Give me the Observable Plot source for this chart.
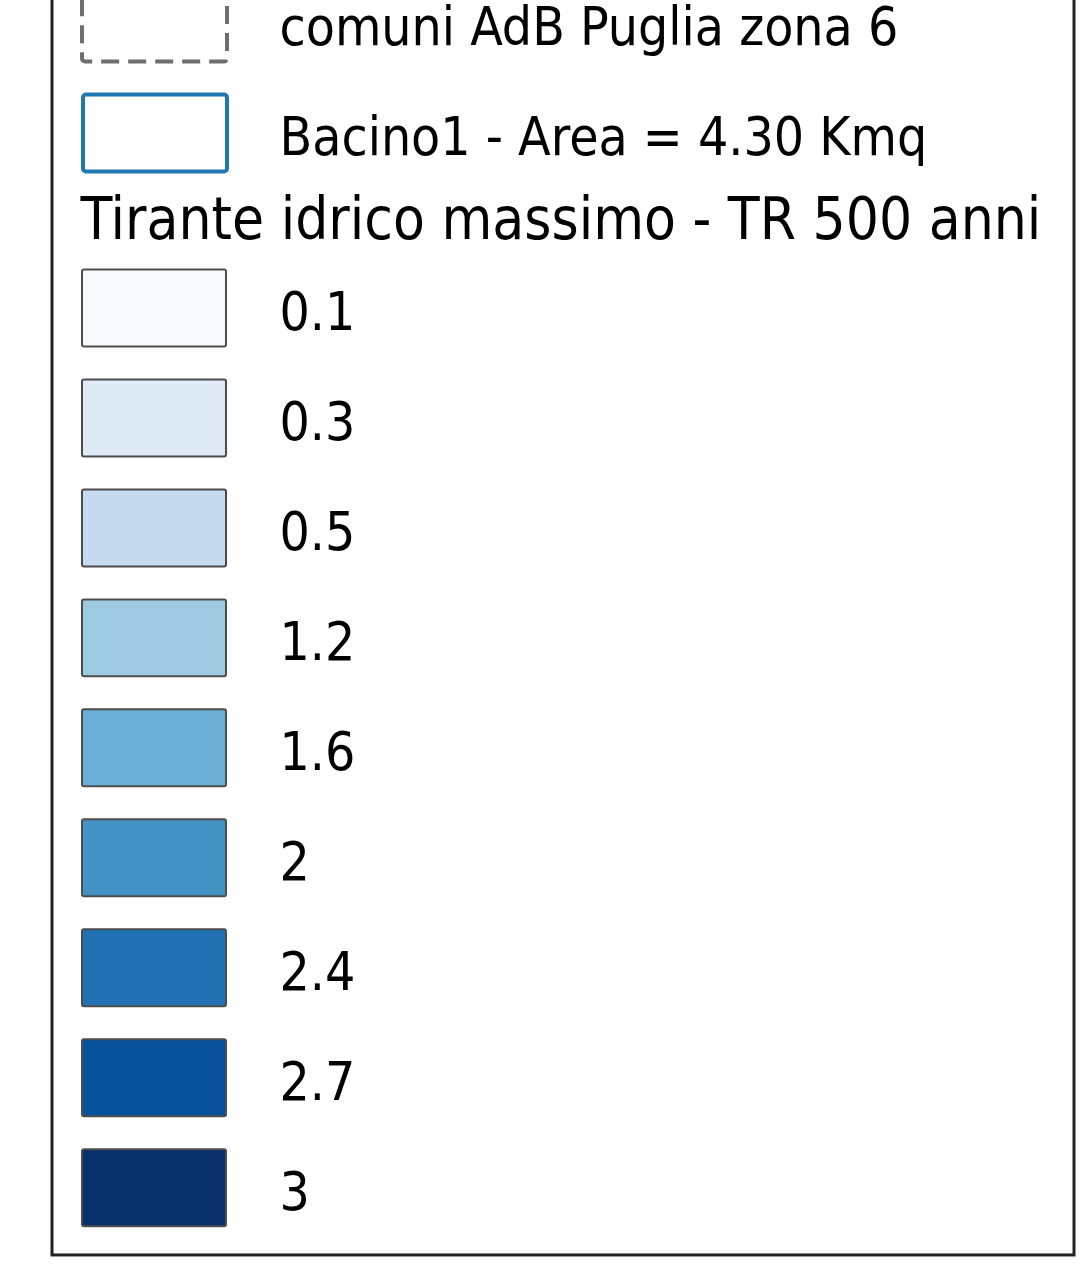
<!DOCTYPE html>
<html>
<head>
<meta charset="utf-8">
<script src="https://cdn.jsdelivr.net/npm/d3@7"></script>
<script src="https://cdn.jsdelivr.net/npm/@observablehq/plot@0.6"></script>
<style>
  html, body { margin: 0; padding: 0; background: #ffffff; }
</style>
</head>
<body>
<div id="chart"></div>
<script>
// ---- data ----
const layerLabels = ["comuni AdB Puglia zona 6", "Bacino1 - Area = 4.30 Kmq"];
const legendTitle = "Tirante idrico massimo - TR 500 anni";
const classLabels = ["0.1", "0.3", "0.5", "1.2", "1.6", "2", "2.4", "2.7", "3"];

// ---- layout (legend row units) ----
const W = 1079, H = 1273;
const titleSlot = 1.75;
const firstClassSlot = 2.59;
const half = 0.35;
const swX1 = 82, swX2 = 226, labelX = 279;
const font = "'DejaVu Sans Condensed', 'DejaVu Sans', sans-serif";

const layers = layerLabels.map((label, i) => ({label, slot: i}));
const classes = classLabels.map((label, i) => ({label, slot: firstClassSlot + i}));
const textRows = [...layers, ...classes];

const chart = Plot.plot({
  width: W,
  height: H,
  margin: 0,
  x: {domain: [0, W], range: [0, W], axis: null},
  y: {domain: [-0.209, 11.364], range: [0, H], axis: null},
  color: {type: "ordinal", scheme: "blues", domain: classLabels},
  style: {fontFamily: font, fontStretch: "condensed", background: "#ffffff"},
  marks: [
    // frame
    Plot.rect([{}], {x1: 52, x2: 1074, y1: -1, y2: 11.2, fill: "none", stroke: "#222222", strokeWidth: 3}),
    // dashed layer box
    Plot.rect(layers.slice(0, 1), {x1: swX1, x2: swX2 + 1, y1: d => d.slot - half, y2: d => d.slot + half,
      fill: "none", stroke: "#6e6e6e", strokeWidth: 4, strokeDasharray: "18,9", rx: 3}),
    // basin box
    Plot.rect(layers.slice(1, 2), {x1: swX1 + 1, x2: swX2 + 1, y1: d => d.slot - half, y2: d => d.slot + half,
      fill: "none", stroke: "#1f77b4", strokeWidth: 4, rx: 3}),
    // class swatches
    Plot.rect(classes, {x1: swX1, x2: swX2, y1: d => d.slot - half, y2: d => d.slot + half,
      fill: "label", stroke: "#4d4d4d", strokeWidth: 2, rx: 2}),
    // labels
    Plot.text(textRows, {x: labelX, y: "slot", text: "label", textAnchor: "start", lineAnchor: "middle",
      fontSize: 53, fill: "#000", fontFamily: font, dy: 5}),
    // title
    Plot.text([legendTitle], {x: 80, y: titleSlot, text: d => d, textAnchor: "start", lineAnchor: "middle",
      fontSize: 58, fill: "#000", fontFamily: font, dy: 4})
  ]
});
document.getElementById("chart").appendChild(chart);
</script>
</body>
</html>
